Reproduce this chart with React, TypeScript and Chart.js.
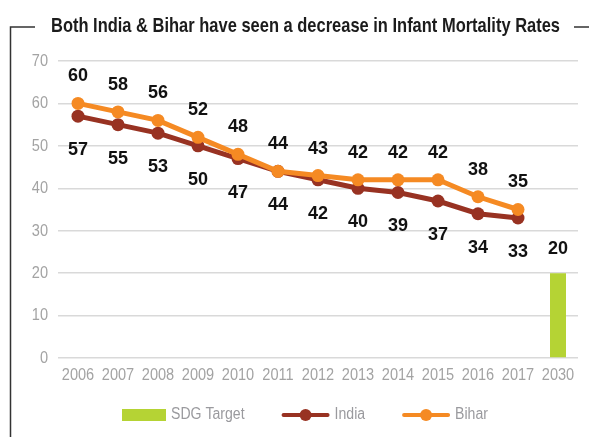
import React, { useEffect, useRef } from "react";
import { Chart, registerables } from "chart.js";

Chart.register(...registerables);

const TITLE = "Both India & Bihar have seen a decrease in Infant Mortality Rates";
const YEARS = ["2006", "2007", "2008", "2009", "2010", "2011", "2012", "2013", "2014", "2015", "2016", "2017", "2030"];
const INDIA = [57, 55, 53, 50, 47, 44, 42, 40, 39, 37, 34, 33, null];
const BIHAR = [60, 58, 56, 52, 48, 44, 43, 42, 42, 42, 38, 35, null];
const SDG_TARGET = [null, null, null, null, null, null, null, null, null, null, null, null, 20];
const Y_TICKS = [0, 10, 20, 30, 40, 50, 60, 70];

const GREEN = "#b5d334";
const INDIA_COLOR = "#983222";
const BIHAR_COLOR = "#f58a23";
const SANS = '"Liberation Sans", Arial, sans-serif';
const TICK_SX = 0.91;
const LEGEND_SX = 0.88;
const TICK_COLOR = "#a3a3a3";
const LABEL_FONT = `bold 18px ${SANS}`;

function narrowText(ctx: any, text: string, x: number, y: number, align: string, sx: number) {
  ctx.save();
  ctx.translate(x, y);
  ctx.scale(sx, 1);
  ctx.textAlign = align;
  ctx.fillText(text, 0, 0);
  ctx.restore();
}

const framePlugin = {
  id: "frameTitle",
  afterDraw(chart: any) {
    const ctx = chart.ctx;
    ctx.save();
    ctx.strokeStyle = "#333333";
    ctx.lineWidth = 1.5;
    ctx.beginPath();
    ctx.moveTo(10.5, 437);
    ctx.lineTo(10.5, 27);
    ctx.lineTo(35, 27);
    ctx.moveTo(574, 27);
    ctx.lineTo(589, 27);
    ctx.stroke();
    ctx.font = `bold 21px ${SANS}`;
    ctx.fillStyle = "#1c1c1c";
    ctx.textBaseline = "alphabetic";
    const w = ctx.measureText(TITLE).width;
    narrowText(ctx, TITLE, 51, 31.7, "left", 509 / w);
    ctx.restore();
  },
};

const tickPlugin = {
  id: "narrowTicks",
  afterDraw(chart: any) {
    const ctx = chart.ctx;
    const xs = chart.scales.x;
    const ys = chart.scales.y;
    ctx.save();
    ctx.font = `16px ${SANS}`;
    ctx.fillStyle = TICK_COLOR;
    ctx.textBaseline = "middle";
    chart.data.labels.forEach((lab: string, i: number) => {
      narrowText(ctx, lab, xs.getPixelForTick(i), 375.5, "center", TICK_SX);
    });
    Y_TICKS.forEach((v) => {
      narrowText(ctx, String(v), 48, ys.getPixelForValue(v) + 0.5, "right", TICK_SX);
    });
    ctx.restore();
  },
};

const valueLabelPlugin = {
  id: "valueLabels",
  afterDatasetsDraw(chart: any) {
    const ctx = chart.ctx;
    ctx.save();
    ctx.font = LABEL_FONT;
    ctx.fillStyle = "#111111";
    ctx.textAlign = "center";
    ctx.textBaseline = "middle";
    chart.data.datasets.forEach((ds: any, i: number) => {
      const meta = chart.getDatasetMeta(i);
      meta.data.forEach((el: any, j: number) => {
        const v = ds.data[j];
        if (v === null || v === undefined) return;
        ctx.fillText(String(v), el.x, el.y + ds.labelOffset);
      });
    });
    ctx.restore();
  },
};

const legendPlugin = {
  id: "customLegend",
  afterDraw(chart: any) {
    const ctx = chart.ctx;
    ctx.save();
    ctx.font = `16px ${SANS}`;
    ctx.textBaseline = "middle";
    const cy = 415;
    let x = 122;
    const items = [2, 0, 1];
    items.forEach((idx) => {
      const ds = chart.data.datasets[idx];
      if (ds.type === "bar") {
        ctx.fillStyle = ds.backgroundColor;
        ctx.fillRect(x, cy - 6, 44, 12);
        x += 44;
      } else {
        ctx.strokeStyle = ds.borderColor;
        ctx.lineWidth = 4;
        ctx.lineCap = "round";
        ctx.beginPath();
        ctx.moveTo(x + 2, cy);
        ctx.lineTo(x + 46, cy);
        ctx.stroke();
        ctx.fillStyle = ds.borderColor;
        ctx.beginPath();
        ctx.arc(x + 24, cy, 6, 0, Math.PI * 2);
        ctx.fill();
        x += 48;
      }
      x += 5;
      ctx.fillStyle = "#9a9a9e";
      narrowText(ctx, ds.label, x, cy, "left", LEGEND_SX);
      x += ctx.measureText(ds.label).width * LEGEND_SX + 37;
    });
    ctx.restore();
  },
};

export default function App() {
  const ref = useRef<HTMLCanvasElement | null>(null);
  useEffect(() => {
    if (!ref.current) return;
    const chart = new Chart(ref.current, {
      type: "line",
      data: {
        labels: YEARS,
        datasets: [
          {
            type: "line",
            label: "India",
            data: INDIA,
            borderColor: INDIA_COLOR,
            backgroundColor: INDIA_COLOR,
            borderWidth: 5,
            pointRadius: 6.5,
            pointHoverRadius: 6.5,
            pointBackgroundColor: INDIA_COLOR,
            pointBorderWidth: 0,
            tension: 0,
            order: 1,
            labelOffset: 34,
          } as any,
          {
            type: "line",
            label: "Bihar",
            data: BIHAR,
            borderColor: BIHAR_COLOR,
            backgroundColor: BIHAR_COLOR,
            borderWidth: 5,
            pointRadius: 6.5,
            pointHoverRadius: 6.5,
            pointBackgroundColor: BIHAR_COLOR,
            pointBorderWidth: 0,
            tension: 0,
            order: 0,
            labelOffset: -27,
          } as any,
          {
            type: "bar",
            label: "SDG Target",
            data: SDG_TARGET,
            backgroundColor: GREEN,
            borderWidth: 0,
            categoryPercentage: 1,
            barPercentage: 0.4,
            order: 2,
            labelOffset: -24,
          } as any,
        ],
      },
      options: {
        animation: false,
        responsive: false,
        maintainAspectRatio: false,
        layout: { padding: { left: 0, right: 11, top: 61, bottom: 0 } },
        plugins: {
          legend: { display: false },
          title: { display: false },
          tooltip: { enabled: false },
        },
        scales: {
          x: {
            type: "category",
            offset: true,
            grid: { display: false, drawTicks: false },
            border: { display: false },
            ticks: { display: false, autoSkip: false },
            afterFit(scale: any) {
              scale.height = 79;
            },
          },
          y: {
            min: 0,
            max: 70,
            afterBuildTicks(scale: any) {
              scale.ticks = Y_TICKS.map((v) => ({ value: v }));
            },
            grid: { color: "#d9d9d9", lineWidth: 1.5, drawTicks: false },
            border: { display: false },
            ticks: { display: false },
            afterFit(scale: any) {
              scale.width = 58;
            },
          },
        },
      } as any,
      plugins: [framePlugin, tickPlugin, valueLabelPlugin, legendPlugin],
    });
    return () => chart.destroy();
  }, []);
  return (
    <div style={{ position: "absolute", left: 0, top: 0, width: 589, height: 437, background: "#ffffff" }}>
      <canvas ref={ref} width={589} height={437} style={{ width: 589, height: 437, display: "block" }} />
    </div>
  );
}
